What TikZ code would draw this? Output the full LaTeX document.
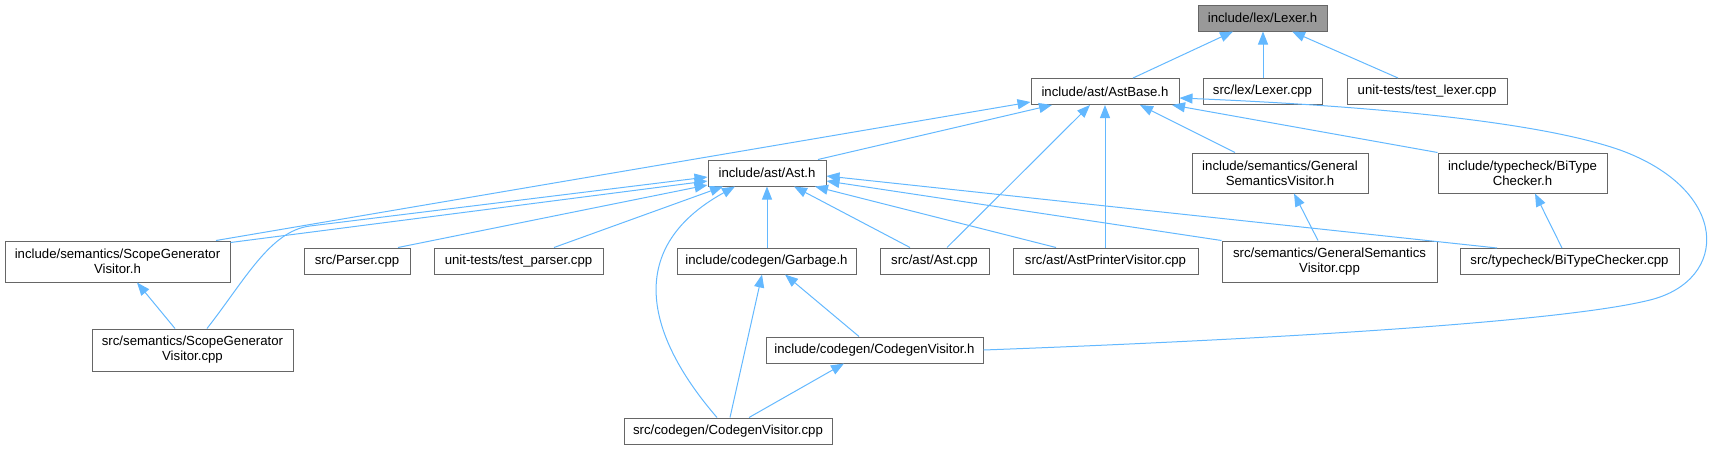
\documentclass[tikz,border=0pt]{standalone}
\usepackage{fontspec}
\setmainfont{Liberation Sans}
\usetikzlibrary{arrows.meta}
\definecolor{edgeblue}{HTML}{63B8FF}
\definecolor{boxgray}{HTML}{666666}
\definecolor{rootfill}{HTML}{999999}
\begin{document}
\begin{tikzpicture}[x=1pt,y=-1pt,
  box/.style={draw=boxgray, line width=1pt, fill=white, inner sep=0pt,
    minimum height=26pt, align=center,
    font=\fontsize{13.2}{15}\selectfont},
  box2/.style={box, minimum height=41pt},
  rootbox/.style={box, fill=rootfill},
  edge/.style={draw=edgeblue, line width=1pt,
    -{Triangle[length=13pt,width=10pt,fill=edgeblue]}}]
\useasboundingbox (0,0) rectangle (1712,450);
% nodes
\node[rootbox, minimum width=129pt] (lexh) at (1262.5,18) {include/lex/Lexer.h};
\node[box, minimum width=148pt] (astbase) at (1105,91.5) {include/ast/AstBase.h};
\node[box, minimum width=119pt] (lexcpp) at (1262.5,91.5) {src/lex/Lexer.cpp};
\node[box, minimum width=160pt] (testlexer) at (1427,91.5) {unit-tests/test\_lexer.cpp};
\node[box, minimum width=118pt] (asth) at (767,173) {include/ast/Ast.h};
\node[box2, minimum width=176pt, minimum height=40pt] (gensemh) at (1280,173) {include/semantics/General\\SemanticsVisitor.h};
\node[box2, minimum width=169pt, minimum height=40pt] (bitypeh) at (1522.5,173) {include/typecheck/BiType\\Checker.h};
\node[box2, minimum width=225pt] (scopeh) at (117.5,261.5) {include/semantics/ScopeGenerator\\Visitor.h};
\node[box, minimum width=106pt] (parser) at (357,261) {src/Parser.cpp};
\node[box, minimum width=169pt] (testparser) at (518.5,261) {unit-tests/test\_parser.cpp};
\node[box, minimum width=179pt] (garbage) at (766.5,261) {include/codegen/Garbage.h};
\node[box, minimum width=109pt] (astcpp) at (934.5,261) {src/ast/Ast.cpp};
\node[box, minimum width=185pt] (printer) at (1105.5,261) {src/ast/AstPrinterVisitor.cpp};
\node[box2, minimum width=215pt] (gensemcpp) at (1329.5,261.5) {src/semantics/GeneralSemantics\\Visitor.cpp};
\node[box, minimum width=219pt] (bitypecpp) at (1569.5,261.5) {src/typecheck/BiTypeChecker.cpp};
\node[box2, minimum width=201pt, minimum height=42pt] (scopecpp) at (192.5,350) {src/semantics/ScopeGenerator\\Visitor.cpp};
\node[box, minimum width=217pt] (cgh) at (874.5,350) {include/codegen/CodegenVisitor.h};
\node[box, minimum width=208pt] (cgcpp) at (728,431) {src/codegen/CodegenVisitor.cpp};
% edges to Lexer.h
\draw[edge] (astbase.north -| 1133,0) -- (lexh.south -| 1233,0);
\draw[edge] (lexcpp.north -| 1263,0) -- (lexh.south -| 1263,0);
\draw[edge] (testlexer.north -| 1398,0) -- (lexh.south -| 1292,0);
% edges to AstBase.h
\draw[edge] (asth.north -| 818,0) -- (astbase.south -| 1052,0);
\draw[edge] (scopeh.north -| 216,0) -- ([yshift=3pt]astbase.south west);
\draw[edge] (astcpp.north -| 947,0) -- (astbase.south -| 1090,0);
\draw[edge] (printer.north -| 1105,0) -- (astbase.south -| 1105,0);
\draw[edge] (gensemh.north -| 1235,0) -- (astbase.south -| 1140,0);
\draw[edge] (bitypeh.north west) -- (astbase.south -| 1172,0);
\draw[edge] (cgh.east) .. controls (1200,342) and (1550,325) .. (1650,300)
  .. controls (1730,280) and (1730,190) .. (1620,150)
  .. controls (1520,115) and (1300,103) .. ([yshift=-6.5pt]astbase.east);
% edges to Ast.h
\draw[edge] ([yshift=-2pt]scopeh.north east) -- (asth.west |- 0,181);
\draw[edge] (scopecpp.north -| 207,0) .. controls (245,280) and (270,231) .. (310,226) -- (asth.west |- 0,177);
\draw[edge] (parser.north -| 398,0) -- (asth.west |- 0,185);
\draw[edge] (testparser.north -| 554,0) -- (asth.south -| 723,0);
\draw[edge] (garbage.north -| 767,0) -- (asth.south -| 767,0);
\draw[edge] (cgcpp.north -| 717,0) .. controls (650,340) and (620,250) .. (asth.south -| 735,0);
\draw[edge] (astcpp.north -| 910,0) -- (asth.south -| 794,0);
\draw[edge] (printer.north -| 1056,0) -- (asth.south -| 815,0);
\draw[edge] (gensemcpp.north west) -- (asth.east |- 0,181);
\draw[edge] (bitypecpp.north -| 1497,0) -- (asth.east |- 0,176);
% other edges
\draw[edge] (scopecpp.north -| 175,0) -- (scopeh.south -| 137,0);
\draw[edge] (gensemcpp.north -| 1318,0) -- (gensemh.south -| 1294,0);
\draw[edge] (bitypecpp.north -| 1562,0) -- (bitypeh.south -| 1535,0);
\draw[edge] (cgcpp.north -| 730,0) -- (garbage.south -| 762,0);
\draw[edge] (cgh.north -| 859,0) -- (garbage.south -| 785,0);
\draw[edge] (cgcpp.north -| 749,0) -- (cgh.south -| 844,0);
\end{tikzpicture}
\end{document}
